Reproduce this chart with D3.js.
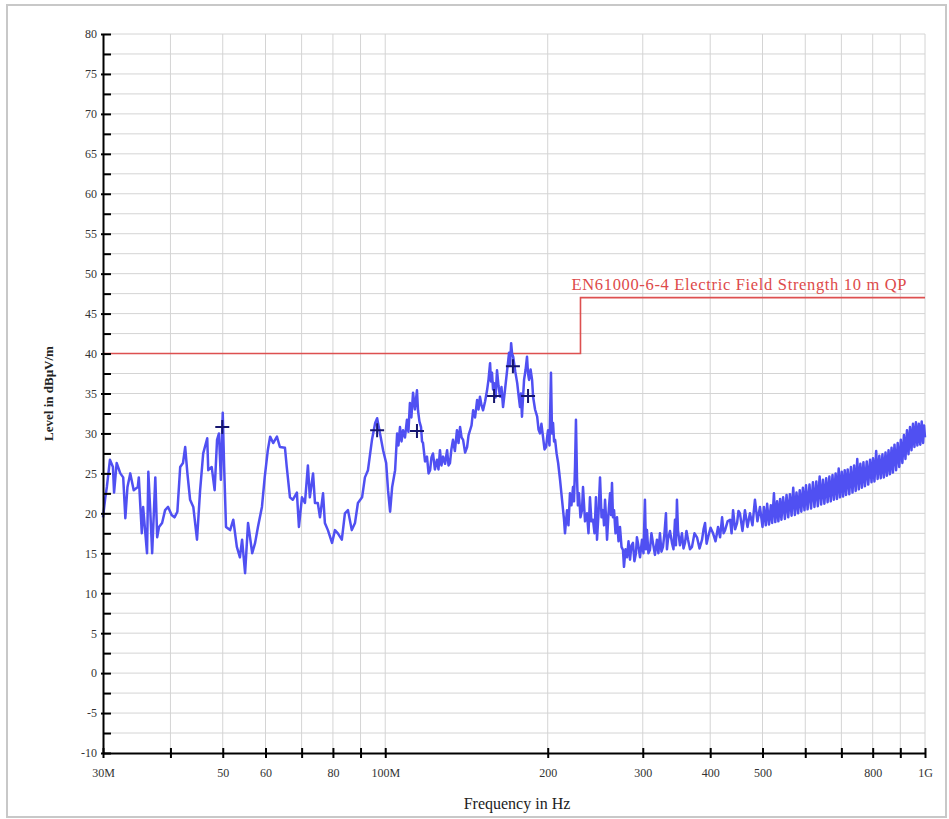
<!DOCTYPE html>
<html>
<meta charset="utf-8">
<style>
body { margin: 0; background: #fff; }
svg text { font-family: "Liberation Serif", "Times New Roman", serif; }
.grid line { stroke: #d4d4d4; stroke-width: 1px; }
</style>
<body>
<script src="https://d3js.org/d3.v7.min.js"></script>
<script>
var width = 949,
    height = 819;

// axis ticks
var freqTicks = [30, 40, 50, 60, 70, 80, 90, 100, 200, 300, 400, 500, 600, 700, 800, 900, 1000];
var freqTickLabels = ["30M", "", "50", "60", "", "80", "", "100M", "200", "300", "400", "500", "", "", "800", "", "1G"];
var levelMin = -10, levelMax = 80;

// limit line EN61000-6-4 (MHz, dBuV/m)
var limitFreq = [30, 230, 230, 1000];
var limitLevel = [40, 40, 47, 47];
var limitName = "EN61000-6-4 Electric Field Strength 10 m QP";

// peak markers
var markerFreq = [49.9, 96.6, 114.5, 159.1, 172.4, 183.9];
var markerLevel = [30.8, 30.4, 30.3, 34.7, 38.4, 34.7];

// measured trace [MHz, dBuV/m]
var trace = [
  [30.0, 19.5], [30.3, 22.0], [30.5, 23.3], [30.9, 26.7], [31.3, 25.8], [31.45, 22.6], [31.8, 26.3],
  [32.3, 25.0], [32.7, 24.5], [33.0, 19.4], [33.3, 23.3], [33.7, 25.0], [34.2, 22.9], [34.8, 23.3],
  [34.95, 24.5], [35.4, 17.5], [35.6, 20.8], [36.2, 15.0], [36.4, 25.2], [36.7, 20.4], [37.0, 15.0],
  [37.5, 24.5], [37.8, 17.0], [38.1, 18.3], [38.6, 18.8], [39.1, 20.4], [39.6, 20.8], [40.2, 19.8],
  [40.7, 19.5], [41.2, 20.2], [41.7, 25.8], [42.2, 26.3], [42.6, 28.3], [43.0, 25.0], [43.5, 21.7],
  [44.1, 20.8], [44.8, 16.7], [45.4, 22.9], [46.0, 27.5], [46.8, 29.4], [47.0, 25.4], [47.7, 25.8],
  [48.3, 22.9], [48.8, 29.2], [49.2, 30.0], [49.6, 24.2], [50.0, 32.6], [50.3, 25.8], [50.7, 18.3],
  [51.6, 17.9], [52.3, 19.2], [53.1, 15.8], [53.8, 14.5], [54.3, 16.7], [55.0, 12.5], [55.7, 18.8],
  [56.7, 15.0], [57.4, 16.3], [58.1, 18.3], [59.1, 20.8], [59.8, 24.5], [60.6, 27.9], [61.2, 29.6],
  [62.0, 28.8], [63.0, 29.6], [63.8, 28.3], [65.2, 28.2], [65.7, 25.8], [66.6, 22.0], [67.4, 21.7],
  [68.6, 22.6], [69.2, 18.3], [70.1, 22.0], [71.0, 21.3], [71.9, 26.0], [72.5, 22.0], [73.5, 25.0],
  [74.1, 21.3], [75.0, 21.3], [75.7, 19.5], [76.7, 22.5], [77.3, 18.8], [78.3, 17.9], [79.7, 16.3],
  [80.7, 17.9], [81.7, 17.5], [83.1, 16.7], [84.2, 20.0], [85.3, 20.4], [86.7, 17.9], [87.9, 18.8],
  [89.0, 21.3], [90.6, 22.0], [91.7, 24.5], [92.9, 25.4], [94.5, 29.2], [95.8, 31.3], [96.6, 31.9],
  [97.8, 30.0], [99.1, 27.9], [100.4, 26.3], [101.2, 22.9], [102.1, 20.2], [103.0, 23.3], [104.3, 25.4],
  [105.2, 30.0], [105.8, 28.5], [106.5, 30.8], [107.2, 29.0], [107.9, 30.4], [108.8, 29.5], [109.7, 31.7],
  [110.4, 30.2], [111.1, 33.8], [111.8, 32.0], [112.6, 35.1], [113.5, 33.0], [114.5, 35.4], [115.0, 32.9],
  [115.7, 31.5], [116.5, 30.8], [117.0, 29.0], [117.5, 28.8], [118.5, 26.5], [119.5, 27.1], [120.3, 25.0],
  [121.1, 25.4], [121.8, 27.0], [122.6, 27.5], [123.6, 25.5], [124.7, 26.7], [125.5, 25.5], [126.3, 27.9],
  [127.1, 26.0], [128.0, 27.1], [129.1, 26.2], [130.2, 27.9], [131.0, 26.0], [131.8, 26.3], [132.6, 28.0],
  [133.5, 29.2], [134.6, 27.8], [135.8, 30.4], [136.7, 28.8], [137.6, 30.8], [138.5, 29.5], [139.4, 29.2],
  [140.6, 27.6], [141.8, 28.3], [142.7, 29.8], [143.6, 30.4], [144.5, 31.0], [145.5, 32.9], [146.7, 32.0],
  [148.0, 34.2], [148.9, 33.0], [149.8, 34.6], [150.8, 33.5], [151.8, 32.9], [153.1, 34.0], [154.4, 35.4],
  [155.4, 36.8], [156.4, 38.8], [157.0, 36.5], [157.7, 37.6], [158.4, 35.5], [159.1, 36.3], [160.1, 34.5],
  [161.1, 37.9], [162.1, 36.0], [163.2, 34.6], [164.2, 35.8], [165.3, 33.3], [166.7, 35.5], [168.2, 37.9],
  [168.9, 39.0], [169.6, 40.1], [170.3, 38.5], [171.1, 41.3], [171.8, 40.0], [172.6, 39.6], [174.1, 37.8],
  [175.6, 36.3], [176.6, 34.8], [177.7, 33.3], [178.4, 35.0], [179.2, 32.1], [180.0, 34.5], [180.8, 36.7],
  [182.0, 38.0], [183.1, 39.6], [183.9, 37.5], [184.7, 36.7], [185.9, 38.0], [187.1, 36.7], [187.9, 34.6],
  [189.5, 33.0], [191.2, 32.1], [192.3, 30.5], [193.5, 30.0], [194.7, 31.2], [196.0, 29.6], [197.3, 28.0],
  [198.6, 28.3], [199.5, 29.5], [200.3, 30.4], [201.5, 28.5], [202.8, 37.6], [203.7, 30.0], [204.6, 31.3],
  [205.5, 29.0], [206.4, 29.2], [207.7, 27.5], [209.1, 26.3], [210.8, 24.2],
  [212.6, 21.7], [214.4, 19.2], [215.3, 17.5], [216.2, 19.0], [217.2, 20.4], [218.5, 18.5], [219.9, 22.5],
  [221.3, 21.0], [222.8, 23.3], [223.7, 21.5], [224.7, 25.8], [225.6, 31.7], [226.6, 24.5], [227.5, 21.0],
  [228.5, 22.5], [230.0, 19.5], [231.5, 20.4], [232.5, 23.3], [234.5, 19.0], [236.5, 20.0], [238.0, 17.5],
  [239.5, 22.0], [241.0, 19.0], [242.6, 19.2], [244.2, 17.5], [245.7, 22.0], [246.8, 16.7], [248.4, 20.0],
  [250.0, 24.5], [251.6, 19.5], [253.2, 20.4], [254.3, 18.5], [255.4, 21.7], [256.5, 19.5], [257.6, 16.7],
  [259.2, 20.0], [260.9, 22.5], [262.0, 19.8], [263.1, 23.8], [264.2, 19.5], [265.4, 20.4], [267.1, 17.5],
  [268.8, 19.5], [270.5, 16.5], [272.2, 18.3], [274.0, 15.8], [275.7, 15.4], [276.9, 13.3], [278.7, 15.5],
  [280.5, 14.5], [282.3, 16.5], [284.1, 14.2], [285.9, 16.0], [287.7, 16.3], [289.5, 14.0], [291.4, 15.0],
  [292.6, 17.0], [293.9, 16.3], [296.5, 14.5], [299.0, 16.7], [300.9, 15.0], [302.8, 21.7], [304.1, 15.5],
  [305.4, 17.9], [307.3, 15.0], [309.3, 15.4], [311.3, 17.5], [313.3, 16.3], [316.0, 14.8], [318.7, 16.7],
  [320.7, 15.0], [322.8, 17.5], [324.9, 15.2], [327.0, 15.8], [329.1, 17.5], [331.2, 20.0], [332.6, 15.5],
  [334.0, 16.7], [336.9, 17.8], [339.8, 16.3], [342.0, 15.5], [344.2, 19.2], [345.6, 16.0], [347.1, 21.7],
  [348.6, 17.9], [351.6, 16.0], [354.6, 17.5], [356.9, 15.6], [359.2, 16.3], [361.5, 17.8], [363.9, 16.7],
  [367.0, 15.5], [370.1, 15.8], [374.1, 17.5], [378.1, 17.0], [382.2, 15.6], [386.3, 16.7], [388.8, 18.0],
  [391.3, 18.8], [393.9, 16.2], [396.4, 17.0], [400.6, 18.2], [404.9, 17.5], [409.2, 16.5], [413.6, 18.3],
  [417.2, 17.0], [420.8, 19.5], [423.5, 17.5], [426.2, 17.9], [430.8, 19.0], [435.4, 19.2], [438.2, 17.5],
  [441.0, 20.4], [444.8, 18.0], [448.6, 18.8], [451.3, 20.3], [454.1, 20.0], [459.0, 17.8], [463.9, 20.4],
  [468.9, 18.3], [473.9, 20.0], [479.0, 18.5], [484.1, 21.7], [489.3, 19.0], [494.6, 20.8],
  [500, 18.3], [503, 20.8], [507, 18.5], [510, 21.2], [514, 18.6], [518, 21.0], [521, 18.8], [525, 22.5],
  [528, 18.9], [532, 21.5], [535, 19.0], [539, 21.8], [542, 19.2], [546, 22.0], [550, 19.3], [554, 22.3],
  [558, 19.5], [562, 22.4], [566, 19.7], [570, 23.2], [574, 19.8], [578, 22.6], [582, 20.0], [586, 22.9],
  [590, 20.2], [594, 23.2], [598, 20.4], [602, 23.5], [606, 20.5], [611, 23.6], [615, 20.6], [620, 23.9],
  [624, 20.8], [629, 24.0], [633, 20.9], [638, 24.6], [642, 21.1], [647, 24.2], [651, 21.2], [656, 24.4],
  [660, 21.4], [665, 24.6], [669, 21.5], [674, 24.8], [678, 21.7], [683, 25.0], [687, 21.8], [692, 25.6],
  [696, 22.0], [701, 25.2], [705, 22.1], [710, 25.4], [714, 22.3], [719, 25.5], [724, 22.4], [729, 25.8],
  [734, 22.6], [739, 26.0], [744, 22.8], [749, 26.8], [754, 23.0], [759, 26.2], [764, 23.2], [769, 26.4],
  [774, 23.4], [780, 26.5], [785, 23.6], [791, 26.7], [796, 23.9], [801, 26.9], [806, 24.0], [812, 27.8],
  [817, 24.3], [823, 27.2], [828, 24.4], [834, 27.4], [839, 24.5], [845, 27.6], [850, 24.7], [856, 27.9],
  [861, 24.9], [867, 28.2], [872, 25.1], [878, 28.6], [884, 25.4], [890, 28.8], [896, 25.8], [902, 29.2],
  [908, 26.3], [914, 29.8], [920, 26.8], [926, 30.4], [932, 27.4], [938, 30.8], [944, 27.9], [950, 31.2],
  [956, 28.3], [962, 31.4], [968, 28.5], [974, 31.2], [980, 28.6], [986, 31.5], [992, 28.8], [996, 31.0],
  [1000, 29.5]
];

var svg = d3.select("body").append("svg")
    .attr("width", width)
    .attr("height", height);

// outer frame
svg.append("rect")
    .attr("x", 7).attr("y", 5)
    .attr("width", 939).attr("height", 812)
    .style("fill", "#fff")
    .style("stroke", "#c8c8c8")
    .style("stroke-width", 2);

var x = d3.scaleLog().domain([30, 1000]).range([103, 925]);
var y = d3.scaleLinear().domain([levelMin, levelMax]).range([753, 34]);

var levelMinor = d3.range(levelMin, levelMax + 0.1, 2.5);

// grid
var grid = svg.append("g").attr("class", "grid");
grid.selectAll(".vg")
    .data(freqTicks.slice(1))
    .enter().append("line")
    .attr("x1", function(d) { return x(d); })
    .attr("x2", function(d) { return x(d); })
    .attr("y1", y(levelMax)).attr("y2", y(levelMin));
grid.selectAll(".hg")
    .data(levelMinor.slice(1))
    .enter().append("line")
    .attr("x1", x(30)).attr("x2", x(1000))
    .attr("y1", function(d) { return y(d); })
    .attr("y2", function(d) { return y(d); });

// limit line
var limitData = limitFreq.map(function(f, i) { return [f, limitLevel[i]]; });
svg.append("path")
    .datum(limitData)
    .attr("d", d3.line().x(function(d) { return x(d[0]); }).y(function(d) { return y(d[1]); }))
    .style("fill", "none")
    .style("stroke", "#dd5050")
    .style("stroke-width", 1.6);

svg.append("text")
    .attr("x", x(230) - 9)
    .attr("y", y(47) - 8)
    .attr("textLength", 335)
    .attr("lengthAdjust", "spacing")
    .style("font-size", "16.5px")
    .style("fill", "#dd4a4a")
    .text(limitName);

// trace
svg.append("path")
    .datum(trace)
    .attr("d", d3.line().x(function(d) { return x(d[0]); }).y(function(d) { return y(d[1]); }))
    .style("fill", "none")
    .style("stroke", "#5050f2")
    .style("stroke-width", 2.5)
    .style("stroke-linejoin", "round");

// markers
svg.selectAll(".mk")
    .data(markerFreq)
    .enter().append("path")
    .attr("transform", function(d, i) { return "translate(" + x(d) + "," + y(markerLevel[i]) + ")"; })
    .attr("d", "M-7,0H7M0,-7V7")
    .style("stroke", "#15156e")
    .style("stroke-width", 2);

// x axis
var xAxis = d3.axisBottom(x)
    .tickValues(freqTicks)
    .tickFormat(function(d, i) { return freqTickLabels[i]; })
    .tickSizeInner(5)
    .tickSizeOuter(0)
    .tickPadding(10);
var gx = svg.append("g")
    .attr("transform", "translate(0," + y(levelMin) + ")")
    .call(xAxis);
gx.select(".domain").style("stroke", "#000").style("stroke-width", 2);
gx.selectAll(".tick line").attr("y1", -5).style("stroke", "#000").style("stroke-width", 2);
gx.selectAll(".tick text").style("font-size", "12px").style("fill", "#333").style("font-family", "Liberation Serif");

// y axis
var yAxis = d3.axisLeft(y)
    .tickValues(levelMinor)
    .tickFormat(function(d) { return d % 5 === 0 ? d : ""; })
    .tickSizeInner(2)
    .tickSizeOuter(0)
    .tickPadding(4);
var gy = svg.append("g")
    .attr("transform", "translate(" + x(30) + ",0)")
    .call(yAxis);
gy.select(".domain").style("stroke", "#000").style("stroke-width", 2);
gy.selectAll(".tick line").attr("x2", 8).attr("x1", function(d) { return d % 5 === 0 ? -2 : 0; })
    .style("stroke", "#000").style("stroke-width", 2);
gy.selectAll(".tick text").style("font-size", "12px").style("fill", "#333").style("font-family", "Liberation Serif");

// axis titles
svg.append("text")
    .attr("transform", "translate(53," + y(35) + ") rotate(-90)")
    .attr("text-anchor", "middle")
    .style("font-size", "13px")
    .style("font-weight", "bold")
    .style("fill", "#222")
    .text("Level in dB\u00b5V/m");

svg.append("text")
    .attr("x", (x(30) + x(1000)) / 2 + 3)
    .attr("y", 809)
    .attr("text-anchor", "middle")
    .style("font-size", "16px")
    .style("fill", "#222")
    .text("Frequency in Hz");
</script>
</body>
</html>
